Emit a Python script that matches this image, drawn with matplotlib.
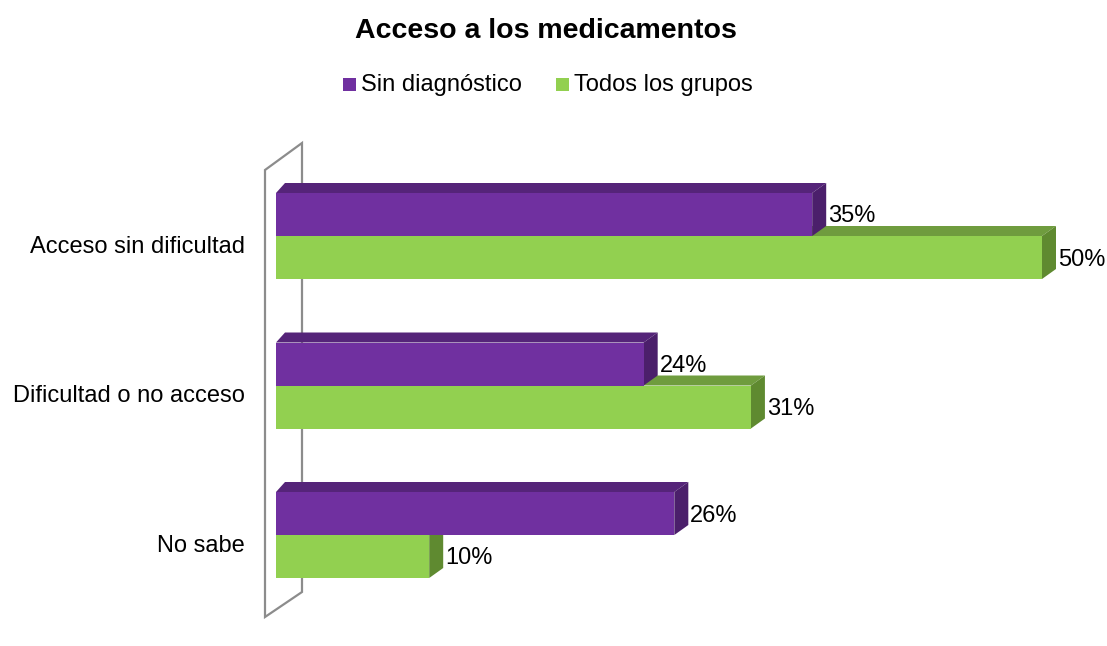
import matplotlib
matplotlib.use('Agg')
import matplotlib.pyplot as plt
from matplotlib.patches import Polygon, Rectangle

plt.rcParams['font.family'] = ['Liberation Sans', 'DejaVu Sans']

# Data
categories = ['Acceso sin dificultad', 'Dificultad o no acceso', 'No sabe']
series_names = ['Sin diagnóstico', 'Todos los grupos']
sin_diagnostico = [35, 24, 26]
todos_los_grupos = [50, 31, 10]

# colours: front face, top face, side face
purple = ('#7030a0', '#552479', '#4b1f6b')
green = ('#92d050', '#6f9c3e', '#5f8a30')

W, H = 1107, 646
fig = plt.figure(figsize=(W / 100, H / 100), dpi=100)
ax = fig.add_axes([0, 0, 1, 1])

# scale: 15.32 px per percent, x=0 at pixel 276; 149.5 px per category
px_pct = 15.32
px_cat = 149.5
ax.set_xlim(-276 / px_pct, (W - 276) / px_pct)
ax.set_ylim((H - 236) / px_cat, -236 / px_cat)
ax.axis('off')

bar_h = 43 / px_cat
dy = -10 / px_cat
dx_left = 9 / px_pct
dx_right = 14 / px_pct

# back wall of the 3D plot
wall = Polygon([(-11 / px_pct, -66 / px_cat), (26 / px_pct, -93 / px_cat),
                (26 / px_pct, 356 / px_cat), (-11 / px_pct, 381 / px_cat)],
               closed=True, fill=False, edgecolor='#8c8c8c', lw=1.6, zorder=1)
ax.add_patch(wall)


def bar3d(value, y_top, cols, z):
    y_bot = y_top + bar_h
    top = Polygon([(0, y_top), (value, y_top), (value + dx_right, y_top + dy),
                   (dx_left, y_top + dy)], closed=True, facecolor=cols[1],
                  edgecolor='none', zorder=z)
    side = Polygon([(value, y_top), (value + dx_right, y_top + dy),
                    (value + dx_right, y_bot + dy), (value, y_bot)], closed=True,
                   facecolor=cols[2], edgecolor='none', zorder=z)
    front = Rectangle((0, y_top), value, bar_h, facecolor=cols[0],
                      edgecolor='none', zorder=z)
    for p in (top, side, front):
        ax.add_patch(p)
    # value label just right of the bar's back edge
    ax.text(value + dx_right + 2 / px_pct, y_top + bar_h / 2 + 2 / px_cat,
            f'{value}%', ha='left', va='center', fontsize=17, color='black',
            zorder=z + 1)


for i, cat in enumerate(categories):
    # green first so the purple bar sits in front of its top face
    bar3d(todos_los_grupos[i], i, green, 2 + i * 2)
    bar3d(sin_diagnostico[i], i - bar_h, purple, 3 + i * 2)
    ax.text(-31 / px_pct, i + 11 / px_cat, cat, ha='right', va='center',
            fontsize=17, color='black')

# Title
fig.text(546 / W, 1 - 31 / H, 'Acceso a los medicamentos', ha='center',
         va='center', fontsize=20.5, fontweight='bold')

# Legend
for name, cols, xs in zip(series_names, (purple, green), (343, 556)):
    fig.patches.append(Rectangle((xs / W, 1 - 91 / H), 13 / W, 13 / H,
                                 transform=fig.transFigure, facecolor=cols[0],
                                 edgecolor='none'))
    fig.text((xs + 18) / W, 1 - 85 / H, name, ha='left', va='center',
             fontsize=17)

plt.savefig('out.png', dpi=100)
